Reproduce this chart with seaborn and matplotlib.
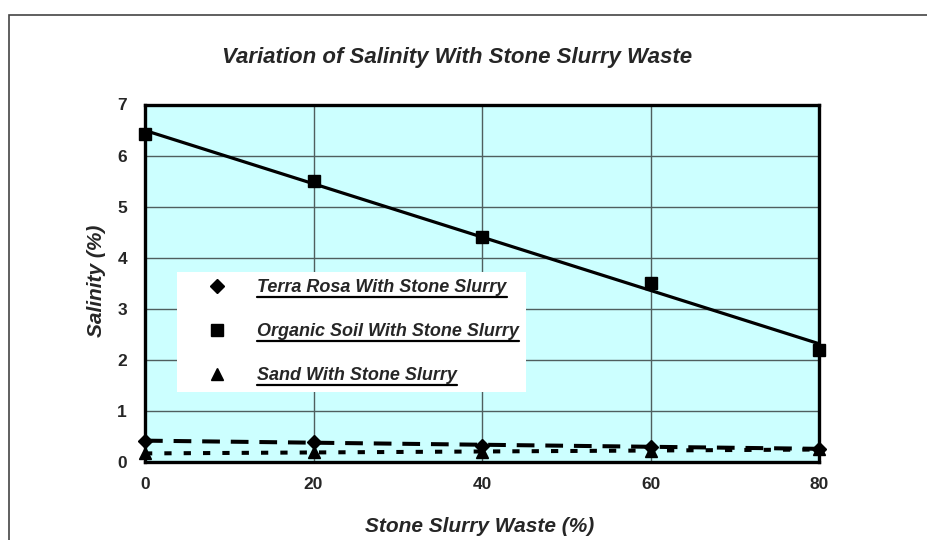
import matplotlib
matplotlib.use("Agg")
import matplotlib.pyplot as plt
from matplotlib.lines import Line2D
from matplotlib.patches import Rectangle
import seaborn as sns
import pandas as pd

# Stone slurry waste content (%) and measured salinity (%)
slurry = [0, 20, 40, 60, 80]
terra_rosa = [0.41, 0.40, 0.32, 0.30, 0.26]
organic_soil = [6.42, 5.50, 4.40, 3.50, 2.20]
sand = [0.17, 0.19, 0.20, 0.22, 0.25]

series_names = ["Terra Rosa With Stone Slurry",
                "Organic Soil With Stone Slurry",
                "Sand With Stone Slurry"]
series_values = [terra_rosa, organic_soil, sand]
markers = ["D", "s", "^"]
marker_sizes = [7, 8, 9]
trend_styles = [(0, (4.4, 2.7)), "-", (0, (1.8, 3.0))]
trend_widths = [2.9, 2.3, 2.9]

x_ticks = [0, 20, 40, 60, 80]
y_ticks = [0, 1, 2, 3, 4, 5, 6, 7]

sns.set_style("white")
plt.rcParams["font.family"] = ["Liberation Sans", "DejaVu Sans"]

W, H = 928, 540
fig = plt.figure(figsize=(W / 100, H / 100), dpi=100)
ax_l, ax_r, ax_t, ax_b = 145, 819, 104.5, 462
ax = fig.add_axes([ax_l / W, 1 - ax_b / H, (ax_r - ax_l) / W, (ax_b - ax_t) / H])
ax.set_facecolor("#CCFFFF")

for name, vals, mk, ms, ls, lw in zip(series_names, series_values, markers,
                                      marker_sizes, trend_styles, trend_widths):
    df = pd.DataFrame({"x": slurry, "y": vals})
    # linear trend line through each series
    sns.regplot(data=df, x="x", y="y", ax=ax, ci=None, scatter=False,
                truncate=True,
                line_kws=dict(color="black", lw=lw, linestyle=ls,
                              dash_capstyle="butt", zorder=3))
    ax.plot(df["x"], df["y"], linestyle="none", marker=mk, ms=ms,
            color="black", clip_on=False, zorder=4, label=name)

ax.set_xlim(0, 80)
ax.set_ylim(0, 7)
ax.set_xticks(x_ticks)
ax.set_yticks(y_ticks)
ax.grid(True, color="#4f5f5f", lw=1.0)
ax.set_axisbelow(True)
for side in ["left", "bottom", "top", "right"]:
    ax.spines[side].set_color("black")
    ax.spines[side].set_linewidth(2.4)
    ax.spines[side].set_visible(True)

ax.tick_params(axis="both", which="both", direction="out", length=5,
               width=1, color="#333333", labelsize=12.5)
ax.tick_params(axis="y", pad=8)
ax.tick_params(axis="x", pad=6)
for lab in ax.get_xticklabels() + ax.get_yticklabels():
    lab.set_fontweight("bold")

ax.set_xlabel("Stone Slurry Waste (%)", fontsize=15, fontweight="bold",
              fontstyle="italic", va="center")
ax.xaxis.set_label_coords((480 - ax_l) / (ax_r - ax_l),
                          (ax_b - 527) / (ax_b - ax_t))
ax.set_ylabel("Salinity (%)", fontsize=15, fontweight="bold",
              fontstyle="italic", va="center")
ax.yaxis.set_label_coords((97 - ax_l) / (ax_r - ax_l),
                          (ax_b - 281) / (ax_b - ax_t))
fig.text(457 / W, 1 - 58 / H, "Variation of Salinity With Stone Slurry Waste",
         ha="center", va="center", fontsize=16, fontweight="bold",
         fontstyle="italic")

handles = [Line2D([], [], linestyle="none", marker=mk, ms=ms, color="black")
           for mk, ms in zip(markers, [7, 8, 9])]
leg = ax.legend(handles, series_names, loc="upper left",
                bbox_to_anchor=((177 - ax_l) / (ax_r - ax_l),
                                (ax_b - 272) / (ax_b - ax_t)),
                frameon=True, fancybox=False, framealpha=1, facecolor="white",
                edgecolor="white", borderpad=0.4, borderaxespad=0,
                labelspacing=1.5, handlelength=3.6, handletextpad=0.45,
                prop=dict(family="Liberation Sans", weight="bold",
                          style="italic", size=13))
leg.get_frame().set_linewidth(0)

# outer chart frame
fig.add_artist(Rectangle((9 / W, -0.2), 1.2, 0.2 + (H - 15) / H,
                         transform=fig.transFigure, fill=False,
                         edgecolor="#444444", lw=1.2))

# underline the legend entries
fig.canvas.draw()
renderer = fig.canvas.get_renderer()
inv = fig.transFigure.inverted()
for t in leg.get_texts():
    bb = t.get_window_extent(renderer)
    (x0, y0), (x1, _) = inv.transform([(bb.x0, bb.y0 - 1), (bb.x1, bb.y0)])
    fig.add_artist(Line2D([x0, x1], [y0, y0], transform=fig.transFigure,
                          color="black", lw=1.6))

fig.savefig("out.png", dpi=100)
